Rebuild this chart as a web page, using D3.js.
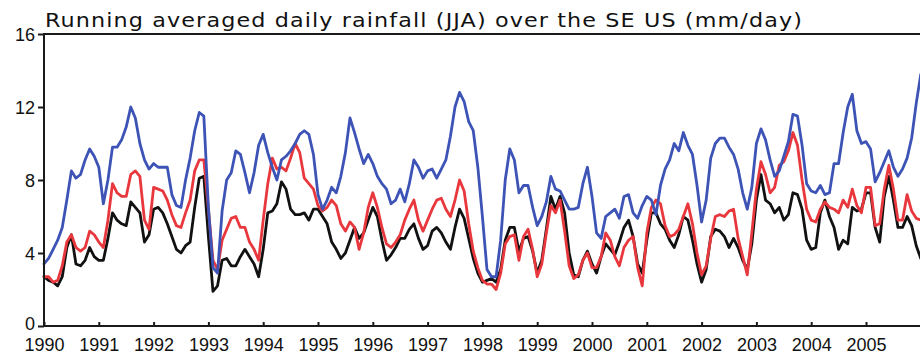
<!DOCTYPE html>
<html>
<head>
<meta charset="utf-8">
<script src="https://cdn.jsdelivr.net/npm/d3@7"></script>
<style>
  html, body { margin: 0; padding: 0; background: #fff; }
  svg { display: block; }
</style>
</head>
<body>
<svg id="chart" width="920" height="355"></svg>
<script>
// ---- data (monthly samples, starting Jan 1990) ----
const startYear = 1990;
const stepsPerYear = 12;
const yearTicks = [1990,1991,1992,1993,1994,1995,1996,1997,1998,1999,2000,2001,2002,2003,2004,2005];
const valueTicks = [0, 4, 8, 12, 16];
const titleText = "Running averaged daily rainfall (JJA) over the SE US (mm/day)";

const blueSeries = [
  3.4,3.7,4.2,4.7,5.4,6.9,8.5,8.1,8.3,9.1,9.7,9.3,8.7,
  6.7,8.0,9.8,9.8,10.2,10.9,12.0,11.4,10.0,9.1,8.6,8.9,
  8.7,8.7,8.7,7.2,6.6,6.5,8.0,9.2,10.7,11.7,11.5,6.5,
  3.2,2.9,6.3,8.0,8.4,9.6,9.4,8.4,7.3,8.4,9.9,10.5,
  9.5,8.7,8.0,9.1,9.3,9.6,10.0,10.5,10.7,10.5,9.4,7.2,
  6.4,6.9,7.6,7.3,8.2,9.5,11.4,10.6,9.7,8.9,9.4,8.9,
  8.2,7.8,7.5,6.7,6.9,7.5,6.8,7.8,9.1,8.7,8.1,8.5,
  8.6,8.1,8.6,9.1,10.4,12.0,12.8,12.3,11.2,10.7,8.7,6.0,
  3.1,2.7,2.7,4.7,8.0,9.7,9.1,7.3,7.7,7.7,6.5,5.5,
  6.0,6.8,8.2,7.5,7.4,6.9,6.4,6.4,6.5,7.8,8.7,7.1,
  5.1,4.8,6.0,6.2,6.4,5.9,7.1,7.2,6.2,5.9,6.6,7.1,
  6.9,6.1,7.7,8.6,9.1,10.0,9.6,10.6,9.9,9.4,7.7,5.7,
  6.9,9.2,10.0,10.3,10.3,9.8,9.4,8.6,7.3,6.4,7.6,10.0,
  10.8,10.2,9.1,8.2,8.5,9.3,10.1,11.6,11.5,9.9,7.8,7.4,
  7.3,7.7,7.2,7.3,8.9,8.9,10.6,12.0,12.7,10.7,10.0,10.1,
  9.7,7.9,8.4,9.0,9.6,8.7,8.2,8.6,9.2,10.3,12.2,13.8
];
const redSeries = [
  2.7,2.7,2.4,2.5,3.3,4.6,5.0,4.3,4.1,4.3,5.2,5.0,4.6,
  4.3,5.8,7.8,7.3,7.1,7.1,8.3,8.5,8.2,5.8,5.3,7.6,
  7.5,7.4,6.9,6.1,5.5,5.4,6.2,6.9,8.5,9.1,9.1,6.4,
  3.6,3.1,4.7,5.3,5.9,6.0,5.4,5.4,4.6,4.2,3.6,5.8,
  7.8,9.2,8.6,8.7,8.5,9.2,10.0,9.5,8.1,7.8,7.5,6.6,
  6.3,6.5,6.9,6.6,5.6,5.2,5.7,5.4,4.2,5.1,6.5,7.3,
  6.5,5.4,4.5,4.3,4.6,5.0,5.8,6.4,6.9,5.8,5.2,5.8,
  6.4,6.9,7.0,6.4,6.0,6.9,8.0,7.4,5.6,4.1,3.2,2.5,
  2.3,2.3,2.0,2.9,4.5,4.9,5.0,3.6,4.9,5.3,4.2,2.7,
  3.4,5.1,6.6,6.2,6.9,5.2,3.3,2.6,2.8,3.6,4.0,3.2,
  3.2,3.8,5.1,4.7,3.8,3.3,4.3,4.7,4.9,3.2,2.2,5.1,
  6.5,6.9,6.7,5.5,4.9,5.0,5.3,6.0,6.7,5.6,4.0,2.8,
  3.3,4.8,6.0,6.1,6.0,6.3,6.4,4.8,3.8,2.8,5.1,7.5,
  9.0,8.3,7.3,7.6,8.8,9.0,9.6,10.6,9.9,8.0,6.4,5.8,
  5.7,6.4,6.8,6.5,6.4,6.2,6.9,6.5,7.5,6.6,6.2,7.6,
  7.6,5.5,5.6,7.5,8.8,7.5,5.8,5.8,7.2,6.3,5.9,5.8
];
const blackSeries = [
  2.7,2.5,2.4,2.2,2.7,4.3,5.0,3.4,3.3,3.6,4.3,3.8,3.6,
  3.6,4.8,6.2,5.8,5.6,5.5,6.8,6.5,6.2,4.6,5.0,6.4,
  6.5,6.2,5.6,4.9,4.2,4.0,4.4,4.6,6.5,8.1,8.2,4.9,
  1.9,2.2,3.6,3.7,3.3,3.3,3.8,4.2,3.8,3.4,2.7,4.2,
  6.2,6.3,6.7,7.9,7.5,6.4,6.1,6.1,6.2,5.8,6.4,6.4,
  6.0,5.6,4.6,4.2,3.7,4.0,4.7,5.4,4.8,5.1,5.8,6.5,
  6.0,4.7,3.6,3.9,4.3,4.8,4.8,5.3,5.6,4.8,4.2,4.4,
  5.2,5.4,5.1,4.6,4.2,5.4,6.4,5.9,4.8,3.7,2.9,2.4,
  2.5,2.6,2.4,3.1,4.7,5.4,5.4,4.1,4.8,4.9,4.1,2.9,
  3.6,5.3,7.1,6.4,7.1,6.2,4.0,2.8,2.7,3.6,4.1,3.4,
  2.9,3.8,4.5,4.2,3.9,4.6,5.4,5.8,4.9,3.4,2.9,4.7,
  6.2,6.2,5.6,5.3,4.7,4.3,5.0,6.0,5.8,4.7,3.4,2.4,
  3.1,4.9,5.3,5.2,4.9,4.3,4.8,4.3,3.6,3.1,4.5,6.9,
  8.3,6.9,6.7,6.2,6.5,5.8,6.1,7.3,7.2,6.4,4.7,4.2,
  4.3,6.2,6.9,6.0,5.4,4.2,4.7,4.5,6.5,6.3,6.4,7.3,
  7.3,5.4,4.6,7.1,8.2,6.9,5.4,5.4,6.0,5.5,4.4,3.7
];

const seriesList = [
  { name: "black", values: blackSeries, color: "#111111" },
  { name: "red",   values: redSeries,   color: "#e8383d" },
  { name: "blue",  values: blueSeries,  color: "#3d53b6" }
];

// ---- drawing ----
const svg = d3.select("#chart");
const plot = { left: 44, top: 34, bottom: 326 };
const x = d3.scaleLinear().domain([1990, 2006]).range([plot.left, 920.8]);
const y = d3.scaleLinear().domain([0, 16]).range([plot.bottom, plot.top]);

const line = d3.line()
  .x((d, i) => x(startYear + i / stepsPerYear))
  .y(d => y(d));

svg.append("g").selectAll("path")
  .data(seriesList)
  .join("path")
  .attr("d", d => line(d.values))
  .attr("fill", "none")
  .attr("stroke", d => d.color)
  .attr("stroke-width", 2.8)
  .attr("stroke-linejoin", "round")
  .attr("stroke-linecap", "round");

// frame
svg.append("rect")
  .attr("x", x(1990)).attr("y", y(16))
  .attr("width", x(2006) - x(1990) + 1)
  .attr("height", y(0) - y(16))
  .attr("fill", "none")
  .attr("stroke", "#1a1a1a")
  .attr("stroke-width", 2);

const font = "'Liberation Sans', Arial, sans-serif";

const yAxis = svg.append("g")
  .attr("transform", `translate(${plot.left},0)`)
  .call(d3.axisLeft(y).tickValues(valueTicks).tickSize(6).tickPadding(3).tickFormat(d3.format("d")));
yAxis.select(".domain").remove();
yAxis.selectAll("line").attr("stroke", "#1a1a1a").attr("stroke-width", 2);
yAxis.selectAll("text").attr("font-family", font).attr("font-size", 18).attr("fill", "#111")
  .attr("dy", d => d === 0 ? "0.18em" : "0.36em");

const xAxis = svg.append("g")
  .attr("transform", `translate(0,${plot.bottom})`)
  .call(d3.axisBottom(x).tickValues(yearTicks).tickSize(-4).tickPadding(12).tickFormat(d3.format("d")));
xAxis.select(".domain").remove();
xAxis.selectAll("line").attr("stroke", "#1a1a1a").attr("stroke-width", 2);
xAxis.selectAll("text").attr("font-family", font).attr("font-size", 18).attr("fill", "#111");

svg.append("text")
  .attr("x", 45).attr("y", 27)
  .attr("font-family", "'DejaVu Sans', sans-serif")
  .attr("font-size", 20)
  .attr("letter-spacing", 1)
  .attr("fill", "#111")
  .attr("textLength", 758)
  .attr("lengthAdjust", "spacingAndGlyphs")
  .text(titleText);
</script>
</body>
</html>
